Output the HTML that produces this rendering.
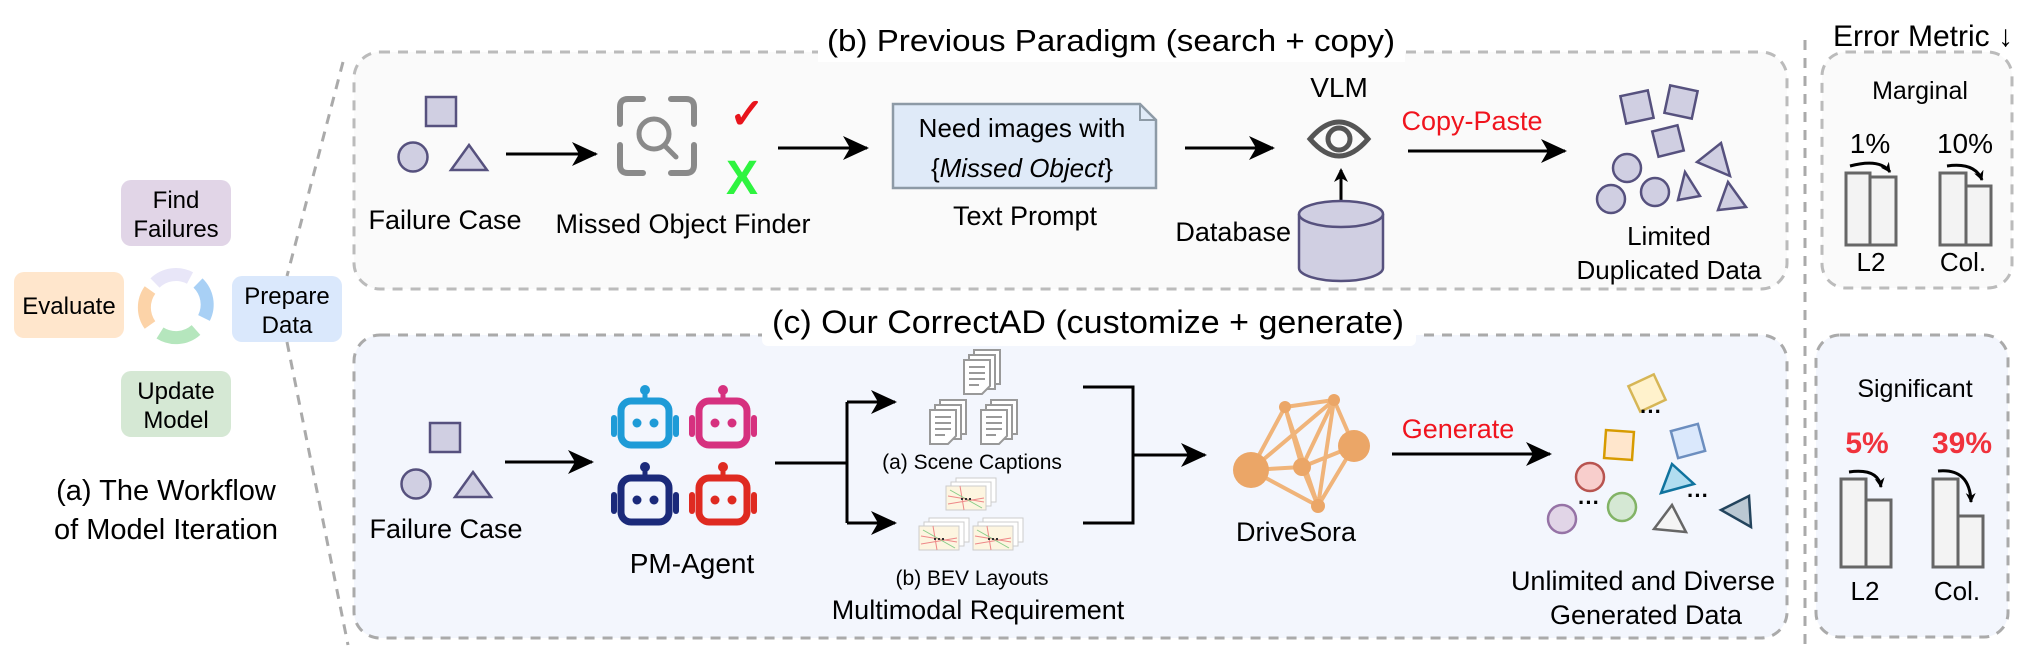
<!DOCTYPE html>
<html><head><meta charset="utf-8"><style>
html,body{margin:0;padding:0;background:#fff}
svg{display:block}
text{font-family:"Liberation Sans",Arial,sans-serif;fill:#000}
</style></head><body>
<svg width="2032" height="650" viewBox="0 0 2032 650" xmlns="http://www.w3.org/2000/svg">
<defs>
<marker id="ah" markerWidth="10" markerHeight="10" refX="9" refY="5" orient="auto" markerUnits="userSpaceOnUse" viewBox="0 0 10 10">
<path d="M0,0 L10,5 L0,10 L3,5 Z" fill="#000"/></marker>
<marker id="ahb" markerWidth="26" markerHeight="24" refX="24" refY="12" orient="auto" markerUnits="userSpaceOnUse">
<path d="M0,0 L26,12 L0,24 L7,12 Z" fill="#000"/></marker>
<marker id="ahs" markerWidth="14" markerHeight="14" refX="12" refY="7" orient="auto" markerUnits="userSpaceOnUse">
<path d="M0,0 L14,7 L0,14 L4,7 Z" fill="#000"/></marker>
<g id="robot">
<circle cx="0" cy="-30" r="5"/>
<rect x="-2.5" y="-28" width="5" height="10"/>
<rect x="-24" y="-19" width="48" height="44" rx="10" fill="none" stroke-width="7" stroke="currentColor"/>
<rect x="-34" y="-5" width="6" height="22" rx="3"/>
<rect x="28" y="-5" width="6" height="22" rx="3"/>
<circle cx="-8" cy="3" r="4.5"/><circle cx="9" cy="3" r="4.5"/>
</g>
<g id="doc">
<rect x="-2" y="-22" width="26" height="34" fill="#fff" stroke="#999" stroke-width="2"/>
<rect x="-7" y="-17" width="26" height="34" fill="#fff" stroke="#999" stroke-width="2"/>
<path d="M-12,-12 h26 v26 l-8,8 h-18 z" fill="#fff" stroke="#999" stroke-width="2"/>
<path d="M-7,-5h16M-7,1h16M-7,7h16M-7,13h10" stroke="#999" stroke-width="2"/>
</g>
<g id="bev">
<rect x="-14" y="-16" width="40" height="24" fill="#fff" stroke="#ccc"/>
<rect x="-19" y="-12" width="40" height="24" fill="#fff" stroke="#ccc"/>
<rect x="-24" y="-8" width="40" height="24" fill="#fdf5e0" stroke="#ccc"/>
<path d="M-22,2 L14,8 M-22,10 L14,4 M-10,-8 L-6,16" stroke="#e88" stroke-width="1"/>
<path d="M-20,-4 L12,14" stroke="#8c8" stroke-width="1"/>
<path d="M-9,5h12" stroke="#333" stroke-width="2" stroke-dasharray="2 2"/>
</g>
</defs>

<!-- left workflow -->
<rect x="121" y="180" width="110" height="66" rx="10" fill="#e1d5e7"/>
<text x="176" y="208" font-size="24" text-anchor="middle">Find</text>
<text x="176" y="237" font-size="24" text-anchor="middle">Failures</text>
<rect x="14" y="272" width="110" height="66" rx="10" fill="#ffe6cc"/>
<text x="69" y="314" font-size="24" text-anchor="middle">Evaluate</text>
<rect x="232" y="276" width="110" height="66" rx="10" fill="#dae8fc"/>
<text x="287" y="304" font-size="24" text-anchor="middle">Prepare</text>
<text x="287" y="333" font-size="24" text-anchor="middle">Data</text>
<rect x="121" y="371" width="110" height="66" rx="10" fill="#d5e8d4"/>
<text x="176" y="399" font-size="24" text-anchor="middle">Update</text>
<text x="176" y="428" font-size="24" text-anchor="middle">Model</text>
<g fill="none" stroke-width="13">
<path d="M155,283 A30,30 0 0 1 190,278" stroke="#e8e6f8"/>
<path d="M198,283 A30,30 0 0 1 204,318" stroke="#a8d0f5"/>
<path d="M196,330 A30,30 0 0 1 160,333" stroke="#b5e6bd"/>
<path d="M150,325 A30,30 0 0 1 150,290" stroke="#fcd3a8"/>
</g>
<text x="166" y="500" font-size="29" text-anchor="middle">(a) The Workflow</text>
<text x="166" y="539" font-size="29" text-anchor="middle">of Model Iteration</text>
<path d="M343,62 L287,276 M287,342 L348,645" stroke="#aaa" stroke-width="3" stroke-dasharray="10 8" fill="none"/>

<!-- box b -->
<rect x="354" y="52" width="1433" height="237" rx="26" fill="#fafafa" stroke="#bbb" stroke-width="3" stroke-dasharray="10 8"/>
<rect x="818" y="18" width="587" height="44" fill="#fff"/>
<text x="827" y="51" font-size="31" textLength="568" lengthAdjust="spacingAndGlyphs">(b) Previous Paradigm (search + copy)</text>

<rect x="426" y="97" width="30" height="29" fill="#d0cfe2" stroke="#56517e" stroke-width="2.5"/>
<circle cx="413" cy="157" r="14.5" fill="#d0cfe2" stroke="#56517e" stroke-width="2.5"/>
<path d="M469,145 L487,170 L451,170 Z" fill="#d0cfe2" stroke="#56517e" stroke-width="2.5"/>
<text x="445" y="229" font-size="27" text-anchor="middle">Failure Case</text>
<line x1="506" y1="154" x2="596" y2="154" stroke="#000" stroke-width="3" marker-end="url(#ahb)"/>

<g fill="none" stroke="#8a8a8a" stroke-width="6" stroke-linecap="round">
<path d="M620,124 V107 q0,-8 8,-8 h15 M671,99 h15 q8,0 8,8 v17 M694,145 v20 q0,8 -8,8 h-15 M643,173 h-15 q-8,0 -8,-8 v-20"/>
<circle cx="654" cy="134" r="15" stroke-width="5"/>
<path d="M665,146 L676,157" stroke-width="5"/>
</g>
<text x="747" y="128" font-size="42" text-anchor="middle" font-weight="bold" style="fill:#e8141c">✓</text>
<text x="742" y="194" font-size="48" text-anchor="middle" font-weight="bold" style="fill:#2ef43f">X</text>
<text x="683" y="233" font-size="27" text-anchor="middle">Missed Object Finder</text>
<line x1="778" y1="148" x2="867" y2="148" stroke="#000" stroke-width="3" marker-end="url(#ahb)"/>

<path d="M893,104 H1140 L1156,120 V188 H893 Z" fill="#dfeaf8" stroke="#8d9aa6" stroke-width="2.5"/>
<path d="M1140,104 V120 H1156" fill="none" stroke="#8d9aa6" stroke-width="2"/>
<text x="1022" y="137" font-size="26" text-anchor="middle">Need images with</text>
<text x="1022" y="177" font-size="26" text-anchor="middle">{<tspan font-style="italic">Missed Object</tspan>}</text>
<text x="1025" y="225" font-size="27" text-anchor="middle">Text Prompt</text>
<line x1="1185" y1="148" x2="1273" y2="148" stroke="#000" stroke-width="3" marker-end="url(#ahb)"/>

<text x="1339" y="97" font-size="28" text-anchor="middle">VLM</text>
<path d="M1310,139 Q1339,105 1368,139 Q1339,173 1310,139 Z" fill="none" stroke="#555" stroke-width="5"/>
<circle cx="1339" cy="139" r="11" fill="none" stroke="#555" stroke-width="5"/>
<line x1="1341" y1="200" x2="1341" y2="170" stroke="#000" stroke-width="3" marker-end="url(#ahs)"/>
<path d="M1299,214 V268 A42,13 0 0 0 1383,268 V214" fill="#d0cfe2" stroke="#56517e" stroke-width="2.5"/>
<ellipse cx="1341" cy="214" rx="42" ry="13" fill="#d0cfe2" stroke="#56517e" stroke-width="2.5"/>
<text x="1291" y="241" font-size="27" text-anchor="end">Database</text>
<text x="1472" y="130" font-size="27" text-anchor="middle" style="fill:#f0141e">Copy-Paste</text>
<line x1="1408" y1="151" x2="1565" y2="151" stroke="#000" stroke-width="3" marker-end="url(#ahb)"/>
<g fill="#d0cfe2" stroke="#56517e" stroke-width="2.5">
<rect x="-14" y="-14" width="28" height="28" transform="translate(1637,107) rotate(-12)"/>
<rect x="-14" y="-14" width="28" height="28" transform="translate(1681,102) rotate(12)"/>
<rect x="-13" y="-13" width="26" height="26" transform="translate(1668,141) rotate(-14)"/>
<circle cx="1627" cy="168" r="14"/><circle cx="1611" cy="199" r="14"/><circle cx="1655" cy="192" r="14"/>
<path d="M1721,143 L1730,176 L1697,162 Z"/>
<path d="M1685,172 L1700,196 L1678,200 Z"/>
<path d="M1728,182 L1746,207 L1718,210 Z"/>
</g>
<text x="1669" y="245" font-size="26" text-anchor="middle">Limited</text>
<text x="1669" y="279" font-size="26" text-anchor="middle">Duplicated Data</text>

<!-- vertical dotted -->
<line x1="1805" y1="40" x2="1805" y2="650" stroke="#aaa" stroke-width="3" stroke-dasharray="10 8"/>

<!-- right top -->
<text x="1923" y="46" font-size="30" text-anchor="middle">Error Metric ↓</text>
<rect x="1822" y="52" width="190" height="236" rx="24" fill="#fafafa" stroke="#bbb" stroke-width="3" stroke-dasharray="10 8"/>
<text x="1920" y="99" font-size="25" text-anchor="middle">Marginal</text>
<text x="1870" y="153" font-size="28" text-anchor="middle">1%</text>
<text x="1965" y="153" font-size="28" text-anchor="middle">10%</text>
<g fill="#f3f3f3" stroke="#666" stroke-width="3">
<rect x="1846" y="173" width="24" height="72"/><rect x="1870" y="177" width="26" height="68"/>
<rect x="1940" y="173" width="26" height="72"/><rect x="1966" y="186" width="25" height="59"/>
</g>
<path d="M1850,166 Q1880,158 1890,172" fill="none" stroke="#000" stroke-width="3" marker-end="url(#ah)"/>
<path d="M1947,166 Q1975,162 1982,180" fill="none" stroke="#000" stroke-width="3" marker-end="url(#ah)"/>
<text x="1871" y="271" font-size="26" text-anchor="middle">L2</text>
<text x="1963" y="271" font-size="26" text-anchor="middle">Col.</text>

<!-- box c -->
<rect x="354" y="335" width="1433" height="303" rx="26" fill="#f3f6fd" stroke="#aaa" stroke-width="3" stroke-dasharray="10 8"/>
<rect x="762" y="302" width="654" height="44" rx="6" fill="#fff"/>
<text x="772" y="333" font-size="32" textLength="632" lengthAdjust="spacingAndGlyphs">(c) Our CorrectAD (customize + generate)</text>

<rect x="430" y="423" width="30" height="29" fill="#d0cfe2" stroke="#56517e" stroke-width="2.5"/>
<circle cx="416" cy="484" r="14.5" fill="#d0cfe2" stroke="#56517e" stroke-width="2.5"/>
<path d="M473,472 L491,497 L455,497 Z" fill="#d0cfe2" stroke="#56517e" stroke-width="2.5"/>
<text x="446" y="538" font-size="27" text-anchor="middle">Failure Case</text>
<line x1="505" y1="462" x2="592" y2="462" stroke="#000" stroke-width="3" marker-end="url(#ahb)"/>

<use href="#robot" x="645" y="420" fill="#1e9bd7" color="#1e9bd7"/>
<use href="#robot" x="723" y="420" fill="#d6317f" color="#d6317f"/>
<use href="#robot" x="645" y="497" fill="#1b2a7a" color="#1b2a7a"/>
<use href="#robot" x="723" y="497" fill="#df2a21" color="#df2a21"/>
<text x="692" y="573" font-size="28" text-anchor="middle">PM-Agent</text>

<path d="M775,463 H847 M847,402 V523" fill="none" stroke="#000" stroke-width="3"/>
<line x1="847" y1="402" x2="895" y2="402" stroke="#000" stroke-width="3" marker-end="url(#ahb)"/>
<line x1="847" y1="523" x2="895" y2="523" stroke="#000" stroke-width="3" marker-end="url(#ahb)"/>
<use href="#doc" x="976" y="372"/>
<use href="#doc" x="942" y="422"/>
<use href="#doc" x="993" y="422"/>
<text x="972" y="469" font-size="21" text-anchor="middle">(a) Scene Captions</text>
<use href="#bev" x="970" y="494"/>
<use href="#bev" x="943" y="534"/>
<use href="#bev" x="997" y="534"/>
<text x="972" y="585" font-size="21" text-anchor="middle">(b) BEV Layouts</text>
<text x="978" y="619" font-size="27" text-anchor="middle">Multimodal Requirement</text>

<path d="M1083,387 H1133 V523 H1083" fill="none" stroke="#000" stroke-width="3"/>
<line x1="1133" y1="455" x2="1205" y2="455" stroke="#000" stroke-width="3" marker-end="url(#ahb)"/>

<g stroke="#f0b47a" stroke-width="4">
<path d="M1285,407 L1334,400 M1285,407 L1251,470 M1285,407 L1302,467 M1285,407 L1318,506 M1334,400 L1354,446 M1334,400 L1251,470 M1334,400 L1302,467 M1334,400 L1318,506 M1354,446 L1302,467 M1354,446 L1318,506 M1251,470 L1302,467 M1251,470 L1318,506 M1302,467 L1318,506"/>
</g>
<g fill="#eba667">
<circle cx="1285" cy="407" r="6"/><circle cx="1334" cy="400" r="6"/><circle cx="1354" cy="446" r="16"/>
<circle cx="1251" cy="470" r="18"/><circle cx="1302" cy="467" r="9"/><circle cx="1318" cy="506" r="7"/>
</g>
<text x="1296" y="541" font-size="27" text-anchor="middle">DriveSora</text>
<text x="1458" y="438" font-size="27" text-anchor="middle" style="fill:#f0141e">Generate</text>
<line x1="1392" y1="454" x2="1550" y2="454" stroke="#000" stroke-width="3" marker-end="url(#ahb)"/>

<g stroke-width="2.5">
<rect x="-14" y="-14" width="28" height="28" transform="translate(1647,393) rotate(-25)" fill="#fff2cc" stroke="#d6b656"/>
<rect x="-14" y="-14" width="28" height="28" transform="translate(1619,445) rotate(4)" fill="#ffe6cc" stroke="#d79b00"/>
<rect x="-14" y="-14" width="28" height="28" transform="translate(1688,441) rotate(-15)" fill="#dae8fc" stroke="#6c8ebf"/>
<circle cx="1590" cy="477" r="14" fill="#f8cecc" stroke="#b85450"/>
<circle cx="1562" cy="519" r="14" fill="#e1d5e7" stroke="#9673a6"/>
<circle cx="1622" cy="507" r="14" fill="#d5e8d4" stroke="#82b366"/>
<path d="M1672,464 L1694,484 L1661,493 Z" fill="#b1ddf0" stroke="#10739e"/>
<path d="M1672,505 L1686,532 L1654,529 Z" fill="#f5f5f5" stroke="#666"/>
<path d="M1749,496 L1751,527 L1721,510 Z" fill="#bac8d3" stroke="#23445d"/>
</g>
<g font-size="22" font-weight="bold" text-anchor="middle">
<text x="1651" y="419">···</text><text x="1589" y="510">···</text><text x="1698" y="503">···</text>
</g>
<text x="1643" y="590" font-size="27" text-anchor="middle">Unlimited and Diverse</text>
<text x="1646" y="624" font-size="27" text-anchor="middle">Generated Data</text>

<!-- right bottom -->
<rect x="1816" y="335" width="192" height="302" rx="24" fill="#f3f6fd" stroke="#aaa" stroke-width="3" stroke-dasharray="10 8"/>
<text x="1915" y="397" font-size="25" text-anchor="middle">Significant</text>
<text x="1867" y="453" font-size="30" font-weight="bold" text-anchor="middle" style="fill:#f0323c">5%</text>
<text x="1962" y="453" font-size="30" font-weight="bold" text-anchor="middle" style="fill:#f0323c">39%</text>
<g fill="#f3f3f3" stroke="#666" stroke-width="3">
<rect x="1841" y="479" width="25" height="88"/><rect x="1866" y="500" width="25" height="67"/>
<rect x="1933" y="479" width="25" height="88"/><rect x="1958" y="516" width="25" height="51"/>
</g>
<path d="M1849,472 Q1878,468 1881,487" fill="none" stroke="#000" stroke-width="3" marker-end="url(#ah)"/>
<path d="M1938,471 Q1970,468 1971,502" fill="none" stroke="#000" stroke-width="3" marker-end="url(#ah)"/>
<text x="1865" y="600" font-size="26" text-anchor="middle">L2</text>
<text x="1957" y="600" font-size="26" text-anchor="middle">Col.</text>
</svg>
</body></html>
